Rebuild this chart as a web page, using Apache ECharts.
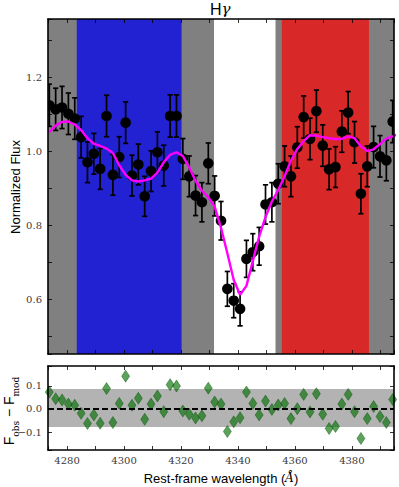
<!DOCTYPE html>
<html><head><meta charset="utf-8">
<script src="https://cdn.jsdelivr.net/npm/echarts@6/dist/echarts.min.js"></script>
<style>html,body{margin:0;padding:0;background:#fff}#c{width:399px;height:487px}</style>
</head><body><div id="c"></div>
<script>
// ---- data ----
const wavelength = [4273.76,4275.99,4278.23,4280.46,4282.69,4284.93,4287.16,4289.39,4291.62,4293.86,
  4296.09,4298.32,4300.56,4302.79,4305.02,4307.26,4309.49,4311.72,4313.95,4316.19,
  4318.42,4320.65,4322.89,4325.12,4327.35,4329.59,4331.82,4334.05,4336.28,4338.52,
  4340.75,4342.98,4345.22,4347.45,4349.68,4351.92,4354.15,4356.38,4358.61,4360.85,
  4363.08,4365.31,4367.55,4369.78,4372.01,4374.25,4376.48,4378.71,4380.94,4383.18,
  4385.41,4387.64,4389.88,4392.11,4394.34,4396.57];
const flux = [1.124,1.113,1.118,1.101,1.088,1.038,0.970,0.993,0.952,1.095,
  0.936,0.984,1.077,0.934,0.964,0.878,0.946,0.997,0.961,1.095,
  1.095,0.979,0.932,0.880,0.862,0.967,0.879,0.812,0.628,0.596,
  0.574,0.709,0.727,0.743,0.856,0.862,0.912,0.959,0.932,1.010,
  1.092,1.033,1.108,1.015,0.951,0.957,1.053,1.104,1.024,0.885,
  0.959,1.011,0.986,0.975,1.080,0.932];
const fluxErr = [0.057,0.057,0.057,0.056,0.056,0.056,0.055,0.055,0.055,0.056,
  0.055,0.055,0.056,0.055,0.055,0.054,0.055,0.055,0.055,0.057,
  0.057,0.055,0.055,0.054,0.053,0.055,0.054,0.052,0.047,0.046,
  0.046,0.050,0.050,0.051,0.053,0.053,0.054,0.055,0.055,0.056,
  0.057,0.056,0.057,0.056,0.055,0.055,0.056,0.057,0.056,0.054,
  0.055,0.056,0.056,0.055,0.057,0.055];
const model = [1.051,1.069,1.079,1.080,1.072,1.057,1.035,1.020,1.014,1.007,
  0.995,0.962,0.936,0.921,0.918,0.921,0.926,0.942,0.970,0.990,
  0.997,0.987,0.956,0.920,0.893,0.876,0.850,0.793,0.724,0.652,
  0.612,0.636,0.703,0.769,0.822,0.864,0.895,0.932,0.974,1.006,
  1.027,1.043,1.042,1.038,1.035,1.033,1.033,1.040,1.035,1.013,
  1.000,1.005,1.019,1.034,1.040,1.047];
const residual = [0.073,0.044,0.039,0.021,0.016,-0.019,-0.063,-0.026,-0.062,0.088,
  -0.059,0.024,0.142,0.016,0.046,-0.045,0.021,0.056,-0.012,0.105,
  0.099,-0.009,-0.023,-0.039,-0.030,0.090,0.030,0.021,-0.098,-0.056,
  -0.038,0.073,0.024,-0.026,0.034,-0.002,0.017,0.024,-0.042,0.001,
  0.063,-0.013,0.066,-0.023,-0.085,-0.076,0.021,0.063,-0.012,-0.128,
  -0.042,0.010,-0.033,-0.059,0.041];
const blueBand = [4283.4, 4320.2];
const lineBand = [4331.6, 4353.2];
const redBand = [4355.4, 4386.0];
const residualBand = [-0.078, 0.086];
const residualMean = 0.004;
const xRange = [4273.3, 4394.8];
const fluxRange = [0.452, 1.357];
const residRange = [-0.178, 0.186];
const xTickLabels = [4280, 4300, 4320, 4340, 4360, 4380];
const fluxTickLabels = [0.6, 0.8, 1.0, 1.2];
const residTickLabels = [-0.1, 0.0, 0.1];

// ---- chart ----
const chart = echarts.init(document.getElementById('c'), null, {renderer: 'svg'});
const near = (arr, v) => arr.some(t => Math.abs(t - v) < 1e-6);
const labelStyle = {color: '#3a3a3a', fontFamily: 'DejaVu Serif', fontSize: 10};

function xAx(grid, pos, showLabel) {
  return {
    type: 'value', gridIndex: grid, position: pos, min: xRange[0], max: xRange[1], splitNumber: 12, z: 10,
    axisLine: {show: true, onZero: false, lineStyle: {color: '#000', width: 1.6}},
    axisTick: {show: true, inside: true, length: 4, lineStyle: {color: '#000', width: 0.8}},
    splitLine: {show: false},
    axisLabel: Object.assign({show: showLabel, margin: 5,
      formatter: v => near(xTickLabels, v) ? String(Math.round(v)) : ''}, labelStyle)
  };
}
function yAx(grid, pos, range, split, labels, showLabel, fmt) {
  return {
    type: 'value', gridIndex: grid, position: pos, min: range[0], max: range[1], splitNumber: split, z: 10,
    axisLine: {show: true, onZero: false, lineStyle: {color: '#000', width: 1.6}},
    axisTick: {show: true, inside: true, length: 4, lineStyle: {color: '#000', width: 0.8}},
    splitLine: {show: false},
    axisLabel: Object.assign({show: showLabel, margin: 6,
      formatter: v => near(labels, v) ? fmt(v) : ''}, labelStyle)
  };
}
const fmtFlux = v => v.toFixed(1);
const fmtRes = v => (Math.abs(v) < 1e-9 ? '0.0' : (v < 0 ? '\u2212' + Math.abs(v).toFixed(1) : v.toFixed(1)));

const option = {
  animation: false,
  grid: [
    {left: 48, right: 5, top: 19, height: 335, show: true, backgroundColor: '#808080', borderWidth: 0},
    {left: 48, right: 5, top: 366, height: 84, show: true, backgroundColor: '#ffffff', borderWidth: 0}
  ],
  xAxis: [xAx(0, 'bottom', false), xAx(0, 'top', false), xAx(1, 'bottom', true), xAx(1, 'top', false)],
  yAxis: [
    yAx(0, 'left', fluxRange, 9, fluxTickLabels, true, fmtFlux),
    yAx(0, 'right', fluxRange, 9, fluxTickLabels, false, fmtFlux),
    yAx(1, 'left', residRange, 4, residTickLabels, true, fmtRes),
    yAx(1, 'right', residRange, 4, residTickLabels, false, fmtRes)
  ],
  graphic: [
    {type: 'text', left: 210, top: 1, style: {
      text: '{h|H}{g|γ}', rich: {
        h: {fontFamily: 'Liberation Sans', fontSize: 16, fill: '#000'},
        g: {fontFamily: 'DejaVu Serif', fontStyle: 'italic', fontSize: 15, fill: '#000'}
      }}},
    {type: 'text', x: 15, y: 187, rotation: Math.PI / 2, style: {
      text: 'Normalized Flux', fontFamily: 'Liberation Sans', fontSize: 13, fill: '#000',
      align: 'center', verticalAlign: 'middle'}},
    {type: 'text', x: 11, y: 411, rotation: Math.PI / 2, style: {
      text: '{f|F}{s|obs}{m| − }{f|F}{s|mod}', align: 'center', verticalAlign: 'middle',
      rich: {
        f: {fontFamily: 'Liberation Sans', fontSize: 14, fill: '#000', verticalAlign: 'top', lineHeight: 19},
        m: {fontFamily: 'Liberation Sans', fontSize: 14, fill: '#000', verticalAlign: 'top', lineHeight: 19},
        s: {fontFamily: 'DejaVu Serif', fontSize: 9, fill: '#000', verticalAlign: 'bottom'}
      }}},
    {type: 'text', x: 221, y: 478, style: {
      text: 'Rest-frame wavelength ({a|Å})', fontFamily: 'Liberation Sans', fontSize: 13, fill: '#000',
      align: 'center', verticalAlign: 'middle',
      rich: {a: {fontFamily: 'DejaVu Serif', fontStyle: 'italic', fontSize: 12, fill: '#000'}}}}
  ],
  series: [
    {type: 'line', xAxisIndex: 0, yAxisIndex: 0, data: [], silent: true, z: 1,
      markArea: {silent: true, data: [
        [{xAxis: blueBand[0], itemStyle: {color: '#2222d2'}}, {xAxis: blueBand[1]}],
        [{xAxis: lineBand[0], itemStyle: {color: '#ffffff'}}, {xAxis: lineBand[1]}],
        [{xAxis: redBand[0], itemStyle: {color: '#d92828'}}, {xAxis: redBand[1]}]
      ]}},
    {type: 'custom', xAxisIndex: 0, yAxisIndex: 0, clip: true, z: 3,
      data: wavelength.map((w, i) => [w, flux[i], fluxErr[i]]),
      encode: {x: 0, y: 1},
      renderItem: (params, api) => {
        const x = api.value(0), y = api.value(1), e = api.value(2);
        const c = api.coord([x, y]);
        const t = api.coord([x, y + e]);
        const b = api.coord([x, y - e]);
        const cap = 2.6, st = {stroke: '#000', lineWidth: 1.7};
        return {type: 'group', children: [
          {type: 'line', shape: {x1: c[0], y1: t[1], x2: c[0], y2: b[1]}, style: st},
          {type: 'line', shape: {x1: c[0] - cap, y1: t[1], x2: c[0] + cap, y2: t[1]}, style: st},
          {type: 'line', shape: {x1: c[0] - cap, y1: b[1], x2: c[0] + cap, y2: b[1]}, style: st},
          {type: 'circle', shape: {cx: c[0], cy: c[1], r: 5.3}, style: {fill: '#000'}}
        ]};
      }},
    {type: 'line', xAxisIndex: 0, yAxisIndex: 0, z: 4, clip: true, symbol: 'none',
      data: wavelength.map((w, i) => [w, model[i]]),
      lineStyle: {color: '#ff00ff', width: 2.4}},
    {type: 'line', xAxisIndex: 2, yAxisIndex: 2, data: [], silent: true, z: 1,
      markArea: {silent: true, data: [[{yAxis: residualBand[0], itemStyle: {color: '#b3b3b3'}}, {yAxis: residualBand[1]}]]}},
    {type: 'line', xAxisIndex: 2, yAxisIndex: 2, data: [], silent: true, z: 2,
      markLine: {silent: true, symbol: 'none', label: {show: false},
        lineStyle: {color: '#000', width: 2.2, type: [6, 3]},
        data: [{yAxis: residualMean}]}},
    {type: 'scatter', xAxisIndex: 2, yAxisIndex: 2, z: 3, symbol: 'diamond', symbolSize: [8, 12],
      data: residual.map((r, i) => [wavelength[i], r]),
      itemStyle: {color: 'rgba(0,110,0,0.8)', borderColor: 'rgba(0,80,0,0.85)', borderWidth: 0.6}}
  ]
};
chart.setOption(option);
</script></body></html>
